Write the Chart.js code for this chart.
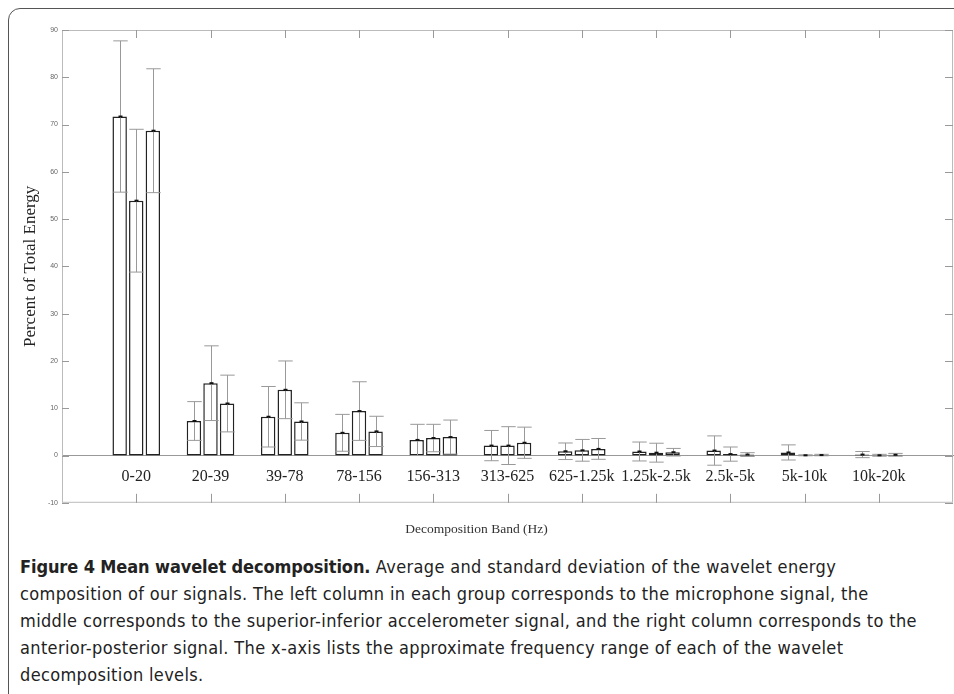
<!DOCTYPE html>
<html>
<head>
<meta charset="utf-8">
<script src="https://cdn.jsdelivr.net/npm/chart.js@4.4.1/dist/chart.umd.min.js"></script>
<style>
    body { margin: 0; background: #fff; width: 954px; height: 694px; overflow: hidden; position: relative; }
    .frame { position: absolute; left: 8px; top: 8px; width: 980px; height: 720px; border: 1.5px solid #555; border-radius: 12px; }
    .wrap { position: absolute; left: 0; top: 0; width: 954px; height: 545px; }
    .caption {
        position: absolute; left: 20px; top: 553px; width: 930px;
        font-family: 'DejaVu Sans Condensed', sans-serif;
        font-size: 18px; line-height: 27px; color: #222; white-space: nowrap;
        letter-spacing: 0.35px;
    }
    .caption b { font-weight: bold; letter-spacing: -0.1px; }
</style>
</head>
<body>
<div class="frame"></div>
<div class="wrap"><canvas id="waveletChart"></canvas></div>
<div class="caption">
    <b>Figure 4 Mean wavelet decomposition.</b> Average and standard deviation of the wavelet energy<br>
    composition of our signals. The left column in each group corresponds to the microphone signal, the<br>
    middle corresponds to the superior-inferior accelerometer signal, and the right column corresponds to the<br>
    anterior-posterior signal. The x-axis lists the approximate frequency range of each of the wavelet<br>
    decomposition levels.
</div>
<script>
const bands = ['0-20', '20-39', '39-78', '78-156', '156-313', '313-625', '625-1.25k', '1.25k-2.5k', '2.5k-5k', '5k-10k', '10k-20k'];
// microphone
const micMean = [71.7, 7.3, 8.2, 4.8, 3.3, 2.1, 0.9, 0.85, 1.05, 0.65, 0.2];
const micSd = [16.0, 4.1, 6.4, 3.9, 3.3, 3.2, 1.75, 2.0, 3.1, 1.6, 0.65];
// superior-inferior accelerometer
const siMean = [53.9, 15.3, 13.9, 9.4, 3.7, 2.1, 1.1, 0.6, 0.3, 0.05, 0.05];
const siSd = [15.1, 7.9, 6.1, 6.2, 2.9, 4.0, 2.3, 2.0, 1.5, 0.1, 0.2];
// anterior-posterior
const apMean = [68.7, 11.0, 7.2, 5.1, 3.9, 2.7, 1.4, 0.7, 0.2, 0.1, 0.15];
const apSd = [13.1, 6.0, 3.95, 3.2, 3.6, 3.3, 2.2, 0.8, 0.4, 0.15, 0.3];
const yTicks = [-10, 0, 10, 20, 30, 40, 50, 60, 70, 80, 90];

// empty slot at each end so the groups sit like matlab's xlim [0 12]
const pad = (arr) => [null].concat(arr, [null]);
const labels = pad(bands);

const barStyle = {
    backgroundColor: '#fff',
    borderColor: '#222',
    borderWidth: 1.5,
    borderSkipped: false,
    categoryPercentage: 0.67,
    barPercentage: 0.87,
};

// box, inward ticks
const framePlugin = {
    id: 'frame',
    beforeDatasetsDraw(chart) {
        const { ctx, chartArea: a, scales } = chart;
        ctx.save();
        ctx.strokeStyle = '#bbb';
        ctx.lineWidth = 1;
        ctx.strokeRect(a.left + 0.5, a.top + 0.5, a.right - a.left - 1, a.bottom - a.top - 1);
        ctx.strokeStyle = '#999';
        yTicks.forEach(function (v) {
            const y = Math.round(scales.y.getPixelForValue(v)) + 0.5;
            ctx.beginPath();
            ctx.moveTo(a.left, y); ctx.lineTo(a.left + 7, y);
            ctx.moveTo(a.right - 8, y); ctx.lineTo(a.right, y);
            ctx.stroke();
        });
        for (let i = 1; i <= bands.length; i++) {
            const x = Math.round(scales.x.getPixelForValue(i)) + 0.5;
            ctx.beginPath();
            ctx.moveTo(x, a.top); ctx.lineTo(x, a.top + 8);
            ctx.moveTo(x, a.bottom - 9); ctx.lineTo(x, a.bottom);
            ctx.stroke();
        }
        ctx.restore();
    },
};

const sds = [micSd, siSd, apSd];
const errorBarPlugin = {
    id: 'errorBars',
    afterDatasetsDraw(chart) {
        const { ctx, scales } = chart;
        ctx.save();
        chart.data.datasets.forEach(function (ds, d) {
            const meta = chart.getDatasetMeta(d);
            meta.data.forEach(function (bar, i) {
                const mean = ds.data[i];
                if (mean === null) return;
                const sd = sds[d][i - 1];
                const x = Math.round(bar.x) + 0.5;
                const yHi = scales.y.getPixelForValue(mean + sd);
                const yLo = scales.y.getPixelForValue(mean - sd);
                const half = bar.width / 2;
                ctx.strokeStyle = '#999';
                ctx.lineWidth = 1;
                ctx.beginPath();
                ctx.moveTo(x, yHi); ctx.lineTo(x, yLo);
                ctx.moveTo(x - half, yHi); ctx.lineTo(x + half, yHi);
                ctx.moveTo(x - half, yLo); ctx.lineTo(x + half, yLo);
                ctx.stroke();
                // dark mark at the mean
                const ym = scales.y.getPixelForValue(mean);
                ctx.fillStyle = '#111';
                ctx.fillRect(x - 2, ym - 1, 4, 2);
            });
        });
        ctx.restore();
    },
};

new Chart(document.getElementById('waveletChart').getContext('2d'), {
    type: 'bar',
    data: {
        labels: labels,
        datasets: [
            Object.assign({ label: 'Microphone', data: pad(micMean) }, barStyle),
            Object.assign({ label: 'Superior-inferior', data: pad(siMean) }, barStyle),
            Object.assign({ label: 'Anterior-posterior', data: pad(apMean) }, barStyle),
        ],
    },
    options: {
        responsive: true,
        maintainAspectRatio: false,
        animation: false,
        layout: { padding: { top: 30, right: 1, left: 0, bottom: 0 } },
        plugins: {
            legend: { display: false },
            tooltip: { enabled: false },
            title: {
                display: true,
                position: 'bottom',
                text: 'Decomposition Band (Hz)',
                color: '#333',
                font: { family: 'Liberation Serif', size: 13.5, weight: 'normal' },
                padding: { top: 19, bottom: 7 },
            },
        },
        scales: {
            x: {
                type: 'category',
                offset: false,
                position: { y: 0 },
                grid: { display: false, drawTicks: false },
                border: { display: true, color: '#999', width: 1 },
                ticks: {
                    autoSkip: false,
                    maxRotation: 0,
                    padding: 12,
                    color: '#222',
                    font: { family: 'Liberation Serif', size: 16 },
                },
            },
            y: {
                min: -10,
                max: 90,
                afterFit: (scale) => { scale.width = 62; },
                grid: { display: false, drawTicks: false },
                border: { display: false },
                ticks: {
                    stepSize: 10,
                    padding: 4,
                    color: '#666',
                    font: { family: 'Liberation Sans', size: 7 },
                },
                title: {
                    display: true,
                    text: 'Percent of Total Energy',
                    color: '#222',
                    font: { family: 'Liberation Serif', size: 17 },
                    padding: { top: 20, bottom: 0 },
                },
            },
        },
    },
    plugins: [framePlugin, errorBarPlugin],
});
</script>
</body>
</html>
